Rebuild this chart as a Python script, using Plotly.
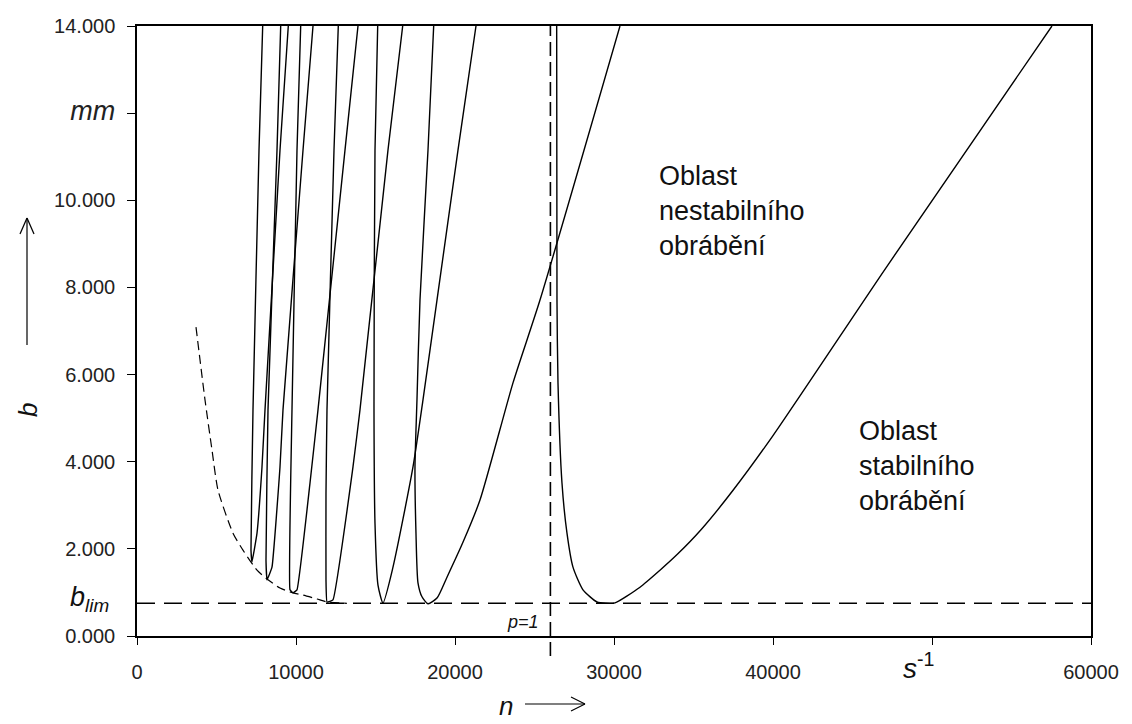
import plotly.graph_objects as go

# ---------------- data ----------------
lobe1_n = [26395, 26414, 26477, 26728, 27043, 27420, 28049, 28929, 29495, 30061, 31634, 32891, 34000, 35500, 37500, 40000, 47105, 57544]
lobe1_b = [14, 7.71, 5.81, 3.51, 2.36, 1.58, 1.06, 0.78, 0.75, 0.76, 1.12, 1.51, 1.88, 2.45, 3.35, 4.60, 8.45, 14]

lobe2_n = [18659, 18301, 17798, 17609, 17483, 17546, 17672, 17924, 18301, 18867, 19496, 20500, 21571, 23647, 25345, 30376]
lobe2_b = [14, 11.15, 7.71, 5.42, 3.88, 2.36, 1.22, 0.90, 0.74, 0.87, 1.35, 2.15, 3.12, 5.81, 7.71, 14]

lobe3_n = [15138, 14968, 14905, 14968, 15156, 15471, 16100, 17358, 17987, 18867, 20188, 21320]
lobe3_b = [14, 11.15, 5.3, 2.59, 1.17, 0.76, 1.58, 3.88, 5.42, 7.71, 11.15, 14]

lobe4_n = [12660, 12389, 11949, 11886, 11886, 11949, 12326, 13584, 14024, 15785, 16710]
lobe4_b = [14, 11.15, 5.19, 3.28, 1.29, 0.78, 0.83, 3.88, 5.19, 11.15, 14]

lobe5_n = [10295, 10062, 9748, 9622, 9811, 10062, 10880, 11383, 13081, 13899]
lobe5_b = [14, 11.15, 5.19, 1.06, 0.99, 1.06, 3.51, 5.19, 11.15, 14]

lobe6_n = [9037, 8805, 8239, 8113, 8176, 8490, 8993, 9182, 10440, 11069]
lobe6_b = [14, 11.15, 5.19, 1.74, 1.29, 1.58, 3.88, 5.19, 11.15, 14]

lobe7_n = [7905, 7673, 7295, 7169, 7232, 7547, 7861, 8050, 8993, 9515]
lobe7_b = [14, 11.15, 5.19, 1.97, 1.70, 2.36, 3.88, 5.19, 11.15, 14]

envelope_n = [3711, 4277, 4717, 5094, 6037, 6666, 7547, 8239, 8993, 9811, 10440, 11320, 11949, 13200]
envelope_b = [7.09, 5.42, 4.27, 3.35, 2.36, 1.97, 1.51, 1.29, 1.10, 0.99, 0.94, 0.85, 0.78, 0.75]

b_lim = 0.75
n_p1 = 26000
n_range = [0, 60000]
b_range = [0, 14]

x_tickvals = [0, 10000, 20000, 30000, 40000, 50000, 60000]
x_ticktext = ["0", "10000", "20000", "30000", "40000", " ", "60000"]
y_tickvals = [0, 2, 4, 6, 8, 10, 12, 14]
y_ticktext = ["0.000", "2.000", "4.000", "6.000", "8.000", "10.000",
              "<i><span style='font-size:27px'>mm</span></i>", "14.000"]

# ---------------- layout geometry ----------------
W, H = 1132, 724
L, R, T, B = 137, 41, 26, 88
PW, PH = W - L - R, H - T - B


def px(x):
    return (x - L) / PW


def py(y):
    return (H - B - y) / PH


FONT = "Liberation Sans, Arial, sans-serif"
BLACK = "#000000"

fig = go.Figure()

lobes = [(lobe1_n, lobe1_b), (lobe2_n, lobe2_b), (lobe3_n, lobe3_b), (lobe4_n, lobe4_b),
         (lobe5_n, lobe5_b), (lobe6_n, lobe6_b), (lobe7_n, lobe7_b)]
for i, (n, b) in enumerate(lobes):
    fig.add_trace(go.Scatter(x=n, y=b, mode="lines",
                             line=dict(color=BLACK, width=1.4, shape="spline",
                                       smoothing=0.6 if i < 3 else 0.3),
                             hoverinfo="skip"))

fig.add_trace(go.Scatter(x=envelope_n, y=envelope_b, mode="lines",
                         line=dict(color=BLACK, width=1.2, dash="9px,5px", shape="spline", smoothing=0.6),
                         hoverinfo="skip"))

fig.add_trace(go.Scatter(x=n_range, y=[b_lim, b_lim], mode="lines",
                         line=dict(color=BLACK, width=1.6, dash="18px,9px"), hoverinfo="skip"))

# p = 1 vertical dashed line (extends slightly below the axis)
fig.add_shape(type="line", xref="x", yref="paper", x0=n_p1, x1=n_p1, y0=py(656), y1=1,
              line=dict(color=BLACK, width=1.6, dash="14px,6px"))


def arrow_h(x0, x1, y):
    fig.add_shape(type="line", xref="paper", yref="paper", x0=px(x0), x1=px(x1), y0=py(y), y1=py(y),
                  line=dict(color=BLACK, width=1.2))
    fig.add_shape(type="line", xref="paper", yref="paper", x0=px(x1 - 14), x1=px(x1), y0=py(y - 7), y1=py(y),
                  line=dict(color=BLACK, width=1.2))
    fig.add_shape(type="line", xref="paper", yref="paper", x0=px(x1 - 14), x1=px(x1), y0=py(y + 7), y1=py(y),
                  line=dict(color=BLACK, width=1.2))


def arrow_v(x, y0, y1):
    fig.add_shape(type="line", xref="paper", yref="paper", x0=px(x), x1=px(x), y0=py(y0), y1=py(y1),
                  line=dict(color=BLACK, width=1.2))
    fig.add_shape(type="line", xref="paper", yref="paper", x0=px(x - 7), x1=px(x), y0=py(y1 + 16), y1=py(y1),
                  line=dict(color=BLACK, width=1.2))
    fig.add_shape(type="line", xref="paper", yref="paper", x0=px(x + 7), x1=px(x), y0=py(y1 + 16), y1=py(y1),
                  line=dict(color=BLACK, width=1.2))


arrow_h(525, 585, 704)
arrow_v(27, 345, 218)

annotations = [
    dict(text="Oblast<br>nestabilního<br>obrábění", xref="x", yref="y", x=32703, y=10.95,
         xanchor="left", yanchor="top", align="left", showarrow=False,
         font=dict(family=FONT, size=27, color="#111")),
    dict(text="Oblast<br>stabilního<br>obrábění", xref="x", yref="y", x=45281, y=5.10,
         xanchor="left", yanchor="top", align="left", showarrow=False,
         font=dict(family=FONT, size=27, color="#111")),
    dict(text="<i>b<sub>lim</sub></i>", xref="paper", yref="y", x=0, y=0.85, xanchor="right", yanchor="middle",
         xshift=-26, showarrow=False, font=dict(family=FONT, size=27, color="#111")),
    dict(text="<i>s</i><sup>-1</sup>", xref="x", yref="paper", x=50000, y=0, xanchor="center", yanchor="top",
         xshift=-14, yshift=-10, showarrow=False, font=dict(family=FONT, size=28, color="#111")),
    dict(text="<i>p=1</i>", xref="x", yref="y", x=n_p1, y=0.32, xanchor="right", yanchor="middle",
         xshift=-9, showarrow=False, font=dict(family=FONT, size=18, color="#111")),
    dict(text="<i>n</i>", xref="paper", yref="paper", x=px(506), y=py(706), xanchor="center", yanchor="middle",
         showarrow=False, font=dict(family=FONT, size=26, color="#111")),
    dict(text="<i>b</i>", xref="paper", yref="paper", x=px(28), y=py(410), xanchor="center", yanchor="middle",
         textangle=-90, showarrow=False, font=dict(family=FONT, size=26, color="#111")),
]

fig.update_layout(
    width=W, height=H,
    margin=dict(l=L, r=R, t=T, b=B, pad=0),
    paper_bgcolor="white", plot_bgcolor="white",
    showlegend=False,
    font=dict(family=FONT, size=20, color="#222"),
    annotations=annotations,
    xaxis=dict(range=n_range, tickmode="array", tickvals=x_tickvals, ticktext=x_ticktext,
               showgrid=False, zeroline=False, showline=True, linecolor=BLACK, linewidth=1.5,
               mirror=True, ticks="outside", ticklen=7, tickwidth=1.3, tickcolor=BLACK,
               ticklabelstandoff=10, tickfont=dict(family=FONT, size=20, color="#222")),
    yaxis=dict(range=b_range, tickmode="array", tickvals=y_tickvals, ticktext=y_ticktext,
               showgrid=False, zeroline=False, showline=True, linecolor=BLACK, linewidth=1.5,
               mirror=True, ticks="outside", ticklen=8, tickwidth=1.3, tickcolor=BLACK,
               ticklabelstandoff=8, tickfont=dict(family=FONT, size=20, color="#222")),
)

fig.write_html("out.html")
